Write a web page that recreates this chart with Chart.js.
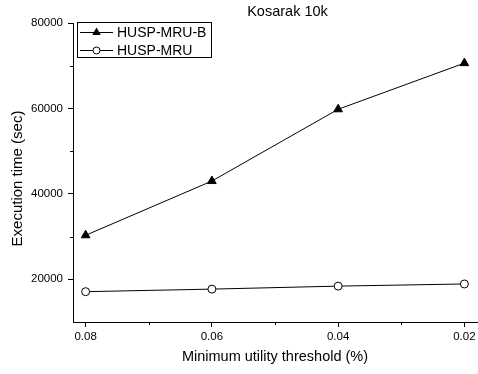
<!DOCTYPE html>
<html><head><meta charset="utf-8">
<script src="https://cdn.jsdelivr.net/npm/chart.js@4/dist/chart.umd.min.js"></script>
<style>html,body{margin:0;padding:0;background:#fff}#wrap{width:478px;height:374px}</style>
</head><body><div id="wrap"><canvas id="c" width="478" height="374"></canvas></div>
<script>
const chartTitle = 'Kosarak 10k';
const xAxisTitle = 'Minimum utility threshold (%)';
const yAxisTitle = 'Execution time (sec)';
const seriesNames = ['HUSP-MRU-B', 'HUSP-MRU'];
const thresholds = [0.08, 0.06, 0.04, 0.02];
const huspMruB = [30300, 43000, 59800, 70600];
const huspMru = [17100, 17700, 18400, 18900];
const xMajorTicks = [0.08, 0.06, 0.04, 0.02];
const xMinorTicks = [0.07, 0.05, 0.03];
const yMajorTicks = [20000, 40000, 60000, 80000];
const yMinorTicks = [30000, 50000, 70000];

const FONT = '"Liberation Sans", Arial, sans-serif';

function drawTri(ctx, x, y, r) {
  ctx.beginPath();
  for (let i = 0; i < 3; i++) {
    const a = i * 2 * Math.PI / 3;
    const px = x + Math.sin(a) * r, py = y - Math.cos(a) * r;
    if (i === 0) ctx.moveTo(px, py); else ctx.lineTo(px, py);
  }
  ctx.closePath();
  ctx.fillStyle = '#000'; ctx.fill();
}
function drawCirc(ctx, x, y, r) {
  ctx.beginPath(); ctx.arc(x, y, r, 0, Math.PI * 2);
  ctx.fillStyle = '#fff'; ctx.fill();
  ctx.strokeStyle = '#000'; ctx.lineWidth = 1; ctx.stroke();
}

const decor = {
  id: 'decor',
  afterDraw(chart) {
    const ctx = chart.ctx, xs = chart.scales.x, ys = chart.scales.y;
    ctx.save();
    ctx.strokeStyle = '#000'; ctx.lineWidth = 1;
    xMinorTicks.forEach(v => {
      const px = Math.round(xs.getPixelForValue(v)) + 0.5;
      ctx.beginPath(); ctx.moveTo(px, ys.bottom); ctx.lineTo(px, ys.bottom + 3); ctx.stroke();
    });
    yMinorTicks.forEach(v => {
      const py = Math.round(ys.getPixelForValue(v)) + 0.5;
      ctx.beginPath(); ctx.moveTo(xs.left, py); ctx.lineTo(xs.left - 3, py); ctx.stroke();
    });
    // chart title
    ctx.fillStyle = '#000';
    ctx.font = '14.5px ' + FONT;
    ctx.textAlign = 'center'; ctx.textBaseline = 'middle';
    ctx.fillText(chartTitle, 287.5, 12);
    // x axis title
    ctx.fillText(xAxisTitle, (xs.left + xs.right) / 2, 357);
    // y axis title
    ctx.save();
    ctx.translate(17.5, 178.5); ctx.rotate(-Math.PI / 2);
    ctx.font = '15px ' + FONT;
    ctx.fillText(yAxisTitle, 0, 0);
    ctx.restore();
    // legend
    ctx.strokeStyle = '#000'; ctx.lineWidth = 1;
    ctx.strokeRect(77.5, 22.5, 134, 35);
    const rows = [32.5, 50.5];
    ctx.font = '14px ' + FONT;
    ctx.textAlign = 'left';
    rows.forEach((y, i) => {
      ctx.beginPath(); ctx.moveTo(80, y); ctx.lineTo(113, y);
      ctx.strokeStyle = '#000'; ctx.lineWidth = 1; ctx.stroke();
      if (i === 0) drawTri(ctx, 96.5, y, 5); else drawCirc(ctx, 96.5, y, 3.5);
      ctx.fillStyle = '#000';
      ctx.fillText(seriesNames[i], 117, y + 0.5);
    });
    ctx.restore();
  }
};

new Chart(document.getElementById('c'), {
  type: 'line',
  data: {
    datasets: [
      {
        label: seriesNames[0],
        data: thresholds.map((t, i) => ({x: t, y: huspMruB[i]})),
        borderColor: '#000', borderWidth: 1,
        pointStyle: 'triangle', pointRadius: 5,
        pointBackgroundColor: '#000', pointBorderColor: '#000', pointBorderWidth: 1
      },
      {
        label: seriesNames[1],
        data: thresholds.map((t, i) => ({x: t, y: huspMru[i]})),
        borderColor: '#000', borderWidth: 1,
        pointStyle: 'circle', pointRadius: 4,
        pointBackgroundColor: '#fff', pointBorderColor: '#000', pointBorderWidth: 1
      }
    ]
  },
  options: {
    responsive: false,
    devicePixelRatio: 1,
    animation: false,
    layout: {autoPadding: false, padding: {top: 23, right: 1, left: 0, bottom: 0}},
    plugins: {legend: {display: false}, title: {display: false}, tooltip: {enabled: false}},
    scales: {
      x: {
        type: 'linear', reverse: true, min: 0.018, max: 0.082,
        afterBuildTicks: s => { s.ticks = xMajorTicks.map(v => ({value: v})); },
        afterFit: s => { s.height = 52; s.paddingLeft = 0; s.paddingRight = 0; },
        grid: {drawOnChartArea: false, tickLength: 5, color: '#000', lineWidth: 1},
        border: {color: '#000', width: 1},
        ticks: {
          color: '#000', font: {family: FONT, size: 11.5}, padding: 3,
          maxRotation: 0, autoSkip: false,
          callback: v => Number(v).toFixed(2)
        }
      },
      y: {
        type: 'linear', min: 10000, max: 80000,
        afterBuildTicks: s => { s.ticks = yMajorTicks.map(v => ({value: v})); },
        afterFit: s => { s.width = 73; s.paddingTop = 0; s.paddingBottom = 0; },
        grid: {drawOnChartArea: false, tickLength: 5, color: '#000', lineWidth: 1},
        border: {color: '#000', width: 1},
        ticks: {
          color: '#000', font: {family: FONT, size: 11.5}, padding: 5,
          callback: v => String(v)
        }
      }
    }
  },
  plugins: [decor]
});
</script>
</body></html>
